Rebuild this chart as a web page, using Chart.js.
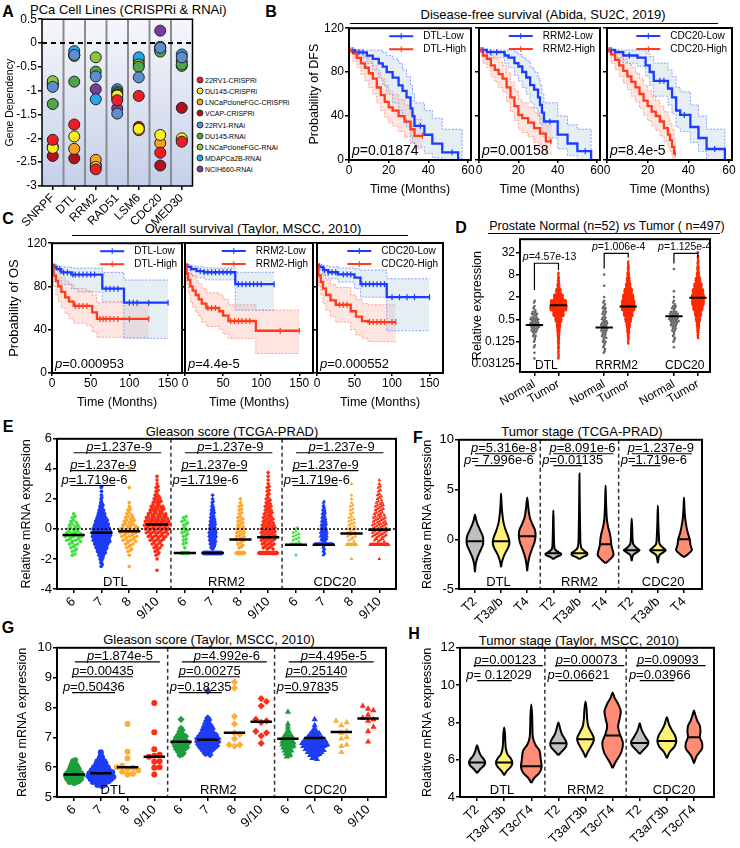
<!DOCTYPE html>
<html>
<head>
<meta charset="utf-8">
<title>PCa dependency and survival</title>
<script src="https://cdn.jsdelivr.net/npm/chart.js@4.4.1/dist/chart.umd.min.js"></script>
<style>
  body { margin: 0; background: #fff; }
  #page { position: relative; width: 740px; height: 848px; overflow: hidden; font-family: 'Liberation Sans', Arial, sans-serif; color: #000; }
  .c { position: absolute; white-space: nowrap; line-height: 1; transform: translate(-50%, -50%); }
  .l { position: absolute; white-space: nowrap; line-height: 1; transform: translateY(-50%); }
  .lab { position: absolute; font-weight: bold; font-size: 16px; line-height: 1; transform: translate(-50%, -50%); }
  .rule { position: absolute; height: 0; border-top: 1px solid #000; }
  .leg { position: absolute; font-size: 7px; line-height: 1; white-space: nowrap; transform: translateY(-50%); }
  .dot { position: absolute; width: 7px; height: 7px; border-radius: 50%; border: 1px solid #333; box-sizing: border-box; transform: translate(-50%, -50%); }
  canvas { position: absolute; }
</style>
</head>
<body>
<div id="page">
  <div class="lab" style="left:8px;top:12px">A</div>
  <div class="l" style="left:30px;top:9px;font-size:13px">PCa Cell Lines (CRISPRi &amp; RNAi)</div>
  <div class="lab" style="left:271px;top:12px">B</div>
  <div class="c" style="left:543px;top:14px;font-size:13px">Disease-free survival (Abida, SU2C, 2019)</div>
  <div class="rule" style="left:350px;top:23px;width:368px"></div>
  <div class="lab" style="left:8px;top:219px">C</div>
  <div class="c" style="left:253px;top:228px;font-size:13px">Overall survival (Taylor, MSCC, 2010)</div>
  <div class="rule" style="left:72px;top:235px;width:336px"></div>
  <div class="lab" style="left:461px;top:228px">D</div>
  <div class="c" style="left:607px;top:226px;font-size:12.5px">Prostate Normal (n=52) <i>vs</i> Tumor ( n=497)</div>
  <div class="rule" style="left:488px;top:233px;width:232px"></div>
  <div class="lab" style="left:8px;top:427px">E</div>
  <div class="c" style="left:232px;top:431px;font-size:13px">Gleason score (TCGA-PRAD)</div>
  <div class="lab" style="left:418px;top:438px">F</div>
  <div class="c" style="left:582px;top:431px;font-size:13px">Tumor stage (TCGA-PRAD)</div>
  <div class="lab" style="left:8px;top:628px">G</div>
  <div class="c" style="left:209px;top:639px;font-size:13px">Gleason score (Taylor, MSCC, 2010)</div>
  <div class="lab" style="left:414px;top:634px">H</div>
  <div class="c" style="left:579px;top:640px;font-size:13px">Tumor stage (Taylor, MSCC, 2010)</div>
</div>
<script>
// ---------------- data ----------------
// A: gene dependency per cell line
const aGenes = ['SNRPF', 'DTL', 'RRM2', 'RAD51', 'LSM6', 'CDC20', 'MED30'];
const aLines = ['22RV1-CRISPRi', 'DU145-CRISPRi', 'LNCaPcloneFGC-CRISPRi', 'VCAP-CRISPRi', '22RV1-RNAi',
  'DU145-RNAi', 'LNCaPcloneFGC-RNAi', 'MDAPCa2B-RNAi', 'NCIH660-RNAi'];
const dep22rv1Cri = [-2.03, -1.71, -2.65, -1.2, -1.11, -2.3, -2.07];
const depDu145Cri = [-2.2, -1.96, -2.6, -1.1, -1.8, -1.93, -2.0];
const depLncapCri = [-2.17, -2.22, -2.45, -1.15, -1.83, -2.1, -2.03];
const depVcapCri = [-2.37, -2.42, -2.56, -1.08, -1.76, -2.57, -1.36];
const dep22rv1Rnai = [-0.92, -0.25, -0.7, -1.48, -0.72, -0.1, -0.3];
const depDu145Rnai = [-1.28, -0.81, -0.6, -1.05, -0.5, -0.18, -0.45];
const depLncapRnai = [-0.8, -0.27, -0.3, -1.02, -0.45, -0.15, -0.48];
const depMdaRnai = [-0.88, -0.17, -1.18, -0.97, -0.3, -0.08, -0.24];
const depNcihRnai = [-0.85, -0.25, -0.97, -1.37, -0.37, 0.26, -0.39];

// B/C: Kaplan-Meier rows [months, survival %, lower CI, upper CI], plus censor times
const dfsDtlLow = [[0,100,100,100],[3,98,93,100],[9,95,88,100],[12,92,82,100],[15,88,75,100],[17,85,68,98],[19,80,60,95],[22,75,52,92],[25,68,45,88],[27,63,38,82],[29,57,30,76],[31,47,22,68],[32,40,16,60],[33,31,12,52],[38,23,6,45],[42,15,2,38],[47,7,0,28],[55,0,0,28],[57,0,0,0]];
const dfsDtlHigh = [[0,100,100,100],[2,97,90,100],[4,93,84,100],[6,88,78,97],[8,84,72,94],[10,79,66,90],[12,74,60,86],[14,66,52,80],[16,59,45,74],[18,53,39,68],[20,48,34,63],[22,45,31,60],[25,40,26,55],[28,35,21,50],[31,28,15,43],[33,22,10,37],[37,22,10,37]];
const dfsRrm2Low = [[0,100,100,100],[4,98,93,100],[13,95,88,100],[15,93,84,100],[18,88,77,98],[20,85,72,96],[22,80,66,93],[24,75,60,90],[26,68,52,84],[28,64,47,80],[30,57,40,74],[31,50,33,68],[32,43,26,60],[33,35,20,52],[40,23,10,40],[45,15,4,32],[50,8,0,28],[57,0,0,0]];
const dfsRrm2High = [[0,100,100,100],[2,95,88,100],[4,92,84,99],[6,86,76,95],[8,82,71,92],[10,78,66,89],[12,74,62,86],[14,66,53,79],[16,57,44,71],[18,49,36,63],[20,41,28,55],[22,38,25,52],[25,34,21,48],[28,29,16,43],[31,24,12,38],[34,17,6,31],[37,17,6,31]];
const dfsCdc20Low = [[0,100,100,100],[4,98,93,100],[8,95,88,100],[15,93,85,100],[19,86,76,97],[21,80,68,94],[23,72,58,88],[30,65,50,82],[32,57,42,76],[34,45,30,66],[36,41,26,62],[41,30,16,50],[45,20,8,40],[49,10,0,28],[58,0,0,0]];
const dfsCdc20High = [[0,100,100,100],[2,96,88,100],[4,91,82,100],[6,86,76,96],[8,81,70,92],[10,76,64,88],[12,71,58,84],[14,66,53,79],[16,60,47,74],[18,54,41,68],[20,49,36,63],[22,44,31,58],[24,40,27,54],[26,35,22,49],[28,29,17,44],[30,23,12,38],[31,18,8,33],[32,12,3,28],[33,6,0,20],[34,6,0,20]];
const dfsDtlLowCens = [2, 5, 7, 36, 52];
const dfsDtlHighCens = [1, 37];
const dfsRrm2LowCens = [2, 6, 9, 36, 54];
const dfsRrm2HighCens = [1, 36.5];
const dfsCdc20LowCens = [2, 11, 26, 28, 38, 53];
const dfsCdc20HighCens = [1, 33.5];
const osDtlLow = [[0,100,100,100],[3,98,92,100],[6,96,86,99],[12,93,82,98],[25,91,78,97],[33,91,75,97],[65,78,66,93],[93,65,32,86],[150,65,32,86]];
const osDtlHigh = [[0,100,100,100],[2,90,80,98],[5,85,72,95],[8,80,66,92],[12,75,60,88],[17,70,55,85],[22,66,50,82],[28,62,46,78],[45,62,44,76],[52,56,38,72],[58,50,33,65],[125,50,33,65]];
const osRrm2Low = [[0,100,100,100],[3,98,95,100],[8,96,90,99],[15,94,88,98],[25,93,86,97],[66,82,58,93],[117,82,58,93]];
const osRrm2High = [[0,100,100,100],[2,92,82,99],[4,86,74,96],[7,80,66,92],[10,76,61,89],[14,72,56,85],[18,68,52,82],[22,64,47,78],[28,60,43,74],[45,57,40,72],[50,53,36,68],[57,48,32,63],[93,39,18,58],[150,39,18,58]];
const osCdc20Low = [[0,100,100,100],[3,98,95,100],[8,95,90,99],[15,93,87,98],[28,91,84,97],[50,88,78,96],[58,82,70,95],[93,70,39,87],[150,70,39,87]];
const osCdc20High = [[0,100,100,100],[2,90,80,98],[5,84,72,95],[8,78,64,91],[12,72,58,86],[18,67,52,82],[25,63,47,79],[45,57,40,72],[52,52,35,68],[60,48,32,64],[68,47,29,63],[105,47,29,63]];
const osDtlLowCens = [10, 15, 20, 27, 30, 35, 40, 45, 50, 55, 70, 75, 80, 85, 100, 105, 110, 125, 150];
const osDtlHighCens = [30, 35, 40, 45, 62, 66, 70, 75, 80, 85, 100, 125];
const osRrm2LowCens = [20, 25, 30, 35, 40, 45, 50, 55, 60, 70, 75, 80, 85, 90, 95, 100, 117];
const osRrm2HighCens = [30, 35, 40, 60, 65, 70, 75, 80, 85, 125, 150];
const osCdc20LowCens = [10, 15, 20, 25, 35, 40, 45, 60, 65, 70, 75, 80, 85, 90, 100, 110, 120, 130, 150];
const osCdc20HighCens = [30, 35, 40, 70, 75, 80, 85, 90, 100, 105];

// D: counts per half-log2 bin (start = log2 of first bin)
const dTicks = [0.03125, 0.125, 0.5, 2, 8, 32];
const dNormalStart = [-4.5, -4, -3.5];
const dNormalCounts = [[1,1,2,2,4,8,12,10,7,3,2], [2,3,4,6,8,8,6,5,4,3,1,0,1,0,1], [1,2,3,5,8,12,10,5,3,1,1,0,0,0,1]];
const dTumorStart = [-4.5, -3, -2.5];
const dTumorCounts = [[2,3,4,6,9,14,22,40,70,110,105,60,30,13,6,3], [3,6,12,22,38,60,85,85,70,50,30,18,10,5,3], [3,8,15,25,40,62,80,82,70,50,30,15,8,5,3,1]];
const dNormalMed = [0.35, 0.3, 0.6];
const dTumorMed = [1.2, 1.1, 1.9];

// E: TCGA-PRAD Gleason, counts per 0.25 bin; floors for RRM2 / CDC20
const eLabels = ['6', '7', '8', '9/10', '6', '7', '8', '9/10', '6', '7', '8', '9/10'];
const eDtlStart = [-1.75, -2.5, -2.5, -2.75];
const eDtlCounts = [[2,2,3,4,6,7,6,5,4,3,2,1],
  [2,3,5,8,12,16,20,24,26,26,24,20,17,13,10,7,5,3,2,1,1,2],
  [1,0,0,1,2,3,4,6,7,8,8,6,5,4,3,2,1,1,0,0,0,1,0,0,0,0,1],
  [1,0,0,1,2,3,4,6,8,10,12,13,14,13,12,10,8,7,5,4,3,2,2,1,1,1]];
const eRrm2Start = [-1.25, -1.25, -1.25, -1.25];
const eRrm2Counts = [[1,2,2,2,3,3,2,3,2], [5,7,9,10,10,9,8,7,6,5,4,3,2,1,1],
  [2,3,4,4,4,4,3,3,3,2,2,2,1,1], [6,7,8,8,8,8,7,6,6,5,4,4,3,3,2,2,2,1,1,1,1]];
const eRrm2FloorVal = -1.6;
const eRrm2Floor = [25, 160, 26, 60];
const eCdc20Start = [-1.75, -1.75, -2, -2];
const eCdc20Counts = [[1,0,0,0,3,3,3,2], [2,3,3,0,8,10,10,9,8,7,6,5,4,3,2],
  [1,0,0,0,0,3,4,4,4,3,3,3,2,2,2,1,1,1,0,0,1], [1,0,0,0,0,6,8,8,8,8,7,7,6,5,5,4,3,3,2,2,1,1]];
const eCdc20FloorVal = -1.05;
const eCdc20Floor = [33, 167, 29, 64];
const eDtlMed = [-0.4, -0.25, -0.15, 0.3];
const eRrm2Med = [-1.6, -1.6, -0.7, -0.55];
const eCdc20Med = [-1.05, -1.05, -0.3, -0.05];
const eP = [['p=1.237e-9', 'p=1.237e-9', 'p=1.719e-6'], ['p=1.237e-9', 'p=1.237e-9', 'p=1.719e-6'], ['p=1.237e-9', 'p=1.237e-9', 'p=1.719e-6']];

// F: TCGA-PRAD stage violins [value, half width]
const fLabels = ['T2', 'T3a/b', 'T4', 'T2', 'T3a/b', 'T4', 'T2', 'T3a/b', 'T4'];
const fDtlT2 = [[-3.3,0],[-2.5,0.03],[-1.8,0.1],[-1.2,0.2],[-0.6,0.3],[-0.2,0.32],[0.3,0.3],[0.9,0.2],[1.5,0.1],[2.0,0.04],[2.5,0]];
const fDtlT3 = [[-2.8,0],[-2.2,0.04],[-1.5,0.14],[-0.8,0.28],[-0.3,0.32],[0.2,0.28],[0.9,0.18],[1.6,0.1],[2.5,0.05],[3.5,0.02],[4.6,0]];
const fDtlT4 = [[-3.2,0],[-2.5,0.03],[-1.8,0.08],[-1,0.18],[-0.3,0.28],[0.3,0.32],[0.9,0.3],[1.5,0.2],[2.2,0.1],[3,0.05],[4.2,0]];
const fRrm2T2 = [[-2.0,0],[-1.8,0.1],[-1.6,0.28],[-1.45,0.3],[-1.3,0.2],[-1.0,0.06],[-0.5,0.03],[0.5,0.02],[1.8,0.01],[2.9,0]];
const fRrm2T3 = [[-2.0,0],[-1.8,0.12],[-1.6,0.28],[-1.4,0.3],[-1.2,0.2],[-0.9,0.08],[-0.4,0.04],[0.5,0.03],[2,0.02],[4,0.01],[6.6,0]];
const fRrm2T4 = [[-2.4,0],[-2.0,0.18],[-1.6,0.3],[-1.2,0.28],[-0.6,0.22],[0,0.2],[0.6,0.16],[1.2,0.1],[2,0.05],[3.5,0.02],[5.4,0]];
const fCdc20T2 = [[-2.2,0],[-1.6,0.05],[-1.3,0.2],[-1.1,0.3],[-0.9,0.2],[-0.5,0.06],[0.2,0.03],[1,0.02],[2.1,0]];
const fCdc20T3 = [[-2.4,0],[-1.6,0.06],[-1.3,0.22],[-1.1,0.3],[-0.9,0.22],[-0.5,0.07],[0.3,0.04],[1.5,0.02],[3.4,0]];
const fCdc20T4 = [[-1.8,0],[-1.5,0.15],[-1.1,0.3],[-0.6,0.25],[0,0.22],[0.6,0.15],[1.2,0.1],[2,0.05],[3,0.02],[4.2,0]];
const fMed = [-0.2, -0.2, 0.3, -1.4, -1.4, -0.5, -1.1, -1.1, 0.0];
const fP = [['p=5.316e-8', 'p= 7.996e-6'], ['p=8.091e-6', 'p=0.01135'], ['p=1.237e-9', 'p=1.719e-6']];

// G: Taylor Gleason; counts per 0.1 bin for groups 6/7, raw values for 8 and 9/10
const gDtlStart = [5.5, 5.4];
const gDtlCounts = [[5,7,8,7,5,4,3,2], [4,8,10,12,11,9,7,5,4,2,1,1]];
const gDtlVals = [[7.45,6.52,6.3,6.05,6.0,5.98,5.95,5.9,5.85,5.78,5.75], [8.15,7.17,6.6,6.42,6.38,6.35,6.2,6.18,6.0,5.98,5.75]];
const gRrm2Start = [6.4, 6.45];
const gRrm2Counts = [[2,3,5,6,7,6,5,3,2,1,0,0,1], [3,5,7,9,10,10,8,6,5,4,3,2,1,0,0,0,0,0,0,0,0,1]];
const gRrm2Vals = [[8.85,8.65,7.7,7.45,7.15,7.1,6.95,6.75,6.75,6.7], [8.3,8.2,8.05,7.6,7.55,7.5,7.2,7.15,7.05,6.8]];
const gCdc20Start = [6.35, 6.3];
const gCdc20Counts = [[2,3,4,5,6,6,5,4,2,1,1,1,0,0,0,1], [3,5,7,9,11,12,10,7,5,3,1,1,0,1]];
const gCdc20Vals = [[7.55,7.5,7.4,7.2,7.15,7.0,6.95,6.75,6.7,6.5], [8.05,7.95,7.9,7.75,7.65,7.6,7.55,7.35,7.2,6.85]];
const gDtlMed = [5.75, 5.8, 6.0, 6.35];
const gRrm2Med = [6.85, 6.92, 7.15, 7.52];
const gCdc20Med = [6.95, 6.98, 7.18, 7.63];
const gP = [['p=1.874e-5', 'p=0.00435', 'p=0.50436'], ['p=4.992e-6', 'p=0.00275', 'p=0.18235'], ['p=4.495e-5', 'p=0.25140', 'p=0.97835']];

// H: Taylor stage violins
const hLabels = ['T2', 'T3a/T3b', 'T3c/T4', 'T2', 'T3a/T3b', 'T3c/T4', 'T2', 'T3a/T3b', 'T3c/T4'];
const hDtlT2 = [[5.28,0],[5.5,0.12],[5.7,0.26],[5.85,0.3],[6.0,0.26],[6.2,0.15],[6.4,0.08],[6.6,0.04],[6.77,0]];
const hDtlT3 = [[5.17,0],[5.4,0.1],[5.65,0.26],[5.85,0.3],[6.05,0.25],[6.3,0.12],[6.6,0.06],[7.0,0.04],[7.4,0.03],[7.73,0]];
const hDtlT4 = [[4.75,0],[5.0,0.1],[5.3,0.3],[5.6,0.38],[6.0,0.35],[6.5,0.3],[6.8,0.15],[7.2,0.06],[7.8,0.04],[8.4,0.03],[8.96,0]];
const hRrm2T2 = [[6.24,0],[6.4,0.1],[6.7,0.28],[6.9,0.3],[7.1,0.24],[7.4,0.12],[7.7,0.06],[8.0,0]];
const hRrm2T3 = [[6.13,0],[6.4,0.08],[6.7,0.2],[7.0,0.3],[7.2,0.3],[7.5,0.2],[7.8,0.1],[8.2,0.06],[8.7,0.04],[9.12,0]];
const hRrm2T4 = [[5.55,0],[5.9,0.12],[6.4,0.32],[6.9,0.38],[7.4,0.26],[7.8,0.2],[8.2,0.26],[8.6,0.3],[9.0,0.2],[9.3,0.08],[9.6,0]];
const hCdc20T2 = [[6.3,0],[6.5,0.12],[6.75,0.28],[6.95,0.32],[7.15,0.24],[7.45,0.12],[7.7,0.05],[7.95,0]];
const hCdc20T3 = [[6.08,0],[6.4,0.1],[6.7,0.28],[7.0,0.35],[7.3,0.3],[7.6,0.18],[7.9,0.08],[8.27,0]];
const hCdc20T4 = [[5.8,0],[6.2,0.1],[6.6,0.3],[6.9,0.3],[7.2,0.22],[7.5,0.24],[7.8,0.22],[8.1,0.12],[8.4,0.05],[8.64,0]];
const hMed = [5.85, 5.85, 5.65, 6.88, 7.1, 7.3, 6.9, 7.0, 7.2];
const hP = [['p=0.00123', 'p= 0.12029'], ['p=0.00073', 'p=0.06621'], ['p=0.09093', 'p=0.03966']];

// ---------------- helpers ----------------
const FONT = "'Liberation Sans', Arial, sans-serif";
Chart.defaults.font.family = FONT;
Chart.defaults.color = '#000';
Chart.defaults.animation = false;
Chart.defaults.responsive = false;
Chart.defaults.events = [];
Chart.defaults.plugins.legend.display = false;
Chart.defaults.plugins.tooltip.enabled = false;

const page = document.getElementById('page');
const PAD_T = 8;

function mount(box, axL, axB, padR, deco) {
  const cv = document.createElement('canvas');
  cv.width = box[2] - box[0] + axL + padR;
  cv.height = box[3] - box[1] + axB + PAD_T;
  cv.style.left = (box[0] - axL) + 'px';
  cv.style.top = (box[1] - PAD_T) + 'px';
  cv.deco = deco || {};
  page.appendChild(cv);
  return cv;
}

function axis(o, horizontal) {
  return {
    type: o.log ? 'logarithmic' : 'linear', min: o.min, max: o.max, bounds: 'data',
    afterBuildTicks: s => { s.ticks = o.ticks.map(v => ({value: v})); },
    afterFit: s => { if (horizontal) s.height = o.size2; else s.width = o.size2; },
    ticks: {display: o.show !== false, autoSkip: false, padding: o.pad ?? 1, font: {size: o.font || 12}, color: '#000',
      minRotation: o.rot || 0, maxRotation: o.rot || 0,
      callback: (v, i) => o.labels ? o.labels[i] : String(v)},
    grid: {drawOnChartArea: false, drawTicks: true, tickLength: o.tl ?? 4, color: '#000', lineWidth: 1.5},
    border: {display: false},
    title: o.title ? {display: true, text: o.title, font: {size: o.tfont || 12.5}, padding: 0, color: '#000'} : {display: false}
  };
}

function opts(x, y, padR) {
  return {layout: {padding: {left: 0, right: padR, top: PAD_T, bottom: 0}},
    scales: {x: axis(x, true), y: axis(y, false)}};
}

function pText(ctx, s, x, y, size, align) {
  const head = s.charAt(0) === 'p' ? 'p' : '';
  const tail = s.slice(head.length);
  ctx.font = `italic ${size}px ${FONT}`;
  const w1 = ctx.measureText(head).width;
  ctx.font = `${size}px ${FONT}`;
  const w2 = ctx.measureText(tail).width;
  const x0 = align === 'center' ? x - (w1 + w2) / 2 : x;
  ctx.textAlign = 'left';
  ctx.textBaseline = 'alphabetic';
  ctx.font = `italic ${size}px ${FONT}`;
  ctx.fillText(head, x0, y);
  ctx.font = `${size}px ${FONT}`;
  ctx.fillText(tail, x0 + w1, y);
}

function hline(ctx, a, y, h) {
  ctx.save();
  ctx.strokeStyle = h.color || '#000'; ctx.lineWidth = h.w || 1.5; ctx.setLineDash(h.dash || []);
  const py = y.getPixelForValue(h.y);
  ctx.beginPath(); ctx.moveTo(a.left, py); ctx.lineTo(a.right, py); ctx.stroke();
  ctx.restore();
}

const decoPlugin = {
  id: 'deco',
  beforeDatasetsDraw(chart) {
    const d = chart.canvas.deco;
    const {ctx, chartArea: a, scales: {x, y}} = chart;
    ctx.save();
    if (d.bg) {
      const g = ctx.createLinearGradient(0, a.top, 0, a.bottom);
      g.addColorStop(0, d.bg[0]); g.addColorStop(1, d.bg[1]);
      ctx.fillStyle = g; ctx.fillRect(a.left, a.top, a.width, a.height);
    }
    (d.vlines || []).forEach(v => {
      ctx.strokeStyle = v.color || '#000'; ctx.lineWidth = v.w || 1.5; ctx.setLineDash(v.dash || []);
      const px = x.getPixelForValue(v.x);
      ctx.beginPath(); ctx.moveTo(px, a.top); ctx.lineTo(px, a.bottom); ctx.stroke();
    });
    ctx.restore();
    (d.hlines || []).filter(h => !h.top).forEach(h => hline(ctx, a, y, h));
  },
  afterDatasetsDraw(chart) {
    const d = chart.canvas.deco;
    const {ctx, chartArea: a, scales: {x, y}} = chart;
    (d.hlines || []).filter(h => h.top).forEach(h => hline(ctx, a, y, h));
    ctx.save();
    ctx.strokeStyle = '#000'; ctx.fillStyle = '#000';
    ctx.lineWidth = d.frame || 2;
    ctx.strokeRect(a.left, a.top, a.width, a.height);
    (d.pvals || []).forEach(p => {
      const py = y.getPixelForValue(p.y);
      ctx.lineWidth = 1.2;
      ctx.beginPath(); ctx.moveTo(x.getPixelForValue(p.x1), py); ctx.lineTo(x.getPixelForValue(p.x2), py); ctx.stroke();
      pText(ctx, p.t, x.getPixelForValue(p.x), py - 2, 13, 'left');
    });
    (d.brackets || []).forEach(b => {
      const xl = x.getPixelForValue(b.x1), xr = x.getPixelForValue(b.x2), yt = y.getPixelForValue(b.y);
      ctx.lineWidth = 1.2;
      ctx.beginPath();
      ctx.moveTo(xl, y.getPixelForValue(b.yl)); ctx.lineTo(xl, yt); ctx.lineTo(xr, yt); ctx.lineTo(xr, y.getPixelForValue(b.yr));
      ctx.stroke();
      pText(ctx, b.t, x.getPixelForValue(b.tx), yt - 3, 10.5, 'center');
    });
    (d.genes || []).forEach(gl => {
      ctx.font = `${d.gSize || 13}px ${FONT}`;
      ctx.textAlign = 'center'; ctx.textBaseline = 'alphabetic';
      ctx.fillText(gl.t, x.getPixelForValue(gl.x), a.bottom - 3);
    });
    if (d.pLabel) pText(ctx, d.pLabel, a.left + 3, a.bottom - 5, d.pSize || 14, 'left');
    if (d.km) {
      ctx.font = `10px ${FONT}`;
      const tw = Math.max(...d.km.map(i => ctx.measureText(i.t).width));
      const tx = a.right - 5 - tw;
      d.km.forEach((it, i) => {
        const yy = a.top + 8 + i * 13;
        ctx.strokeStyle = it.c; ctx.lineWidth = 2;
        ctx.beginPath(); ctx.moveTo(tx - 34, yy); ctx.lineTo(tx - 10, yy); ctx.stroke();
        ctx.lineWidth = 1;
        ctx.beginPath(); ctx.moveTo(tx - 22, yy - 3); ctx.lineTo(tx - 22, yy + 3); ctx.stroke();
        ctx.fillStyle = '#000'; ctx.textAlign = 'left'; ctx.textBaseline = 'middle';
        ctx.font = `10px ${FONT}`;
        ctx.fillText(it.t, tx, yy);
      });
    }
    ctx.restore();
  }
};
Chart.register(decoPlugin);

// beeswarm-ish rows from binned counts
function rows(cx, start, step, counts, dx, maxHalf) {
  const out = [];
  counts.forEach((c, i) => {
    const v = start + i * step;
    const half = Math.min(maxHalf, (c - 1) * dx / 2);
    for (let k = 0; k < c; k++) {
      const f = c > 1 ? k / (c - 1) : 0.5;
      out.push({x: cx - half + 2 * half * f, y: v + [0, 0.33, -0.33][k % 3] * step});
    }
  });
  return out;
}

// simple beeswarm for short value lists
function swarm(cx, vals, rx, ry) {
  const out = [];
  [...vals].sort((a, b) => a - b).forEach(v => {
    for (let j = 0; j < 40; j++) {
      const x = cx + (j % 2 ? 1 : -1) * Math.ceil(j / 2) * rx;
      if (out.every(p => Math.abs(p.x - x) > rx * 0.9 || Math.abs(p.y - v) > ry)) { out.push({x, y: v}); return; }
    }
  });
  return out;
}

function dots(data, color, style, r) {
  return {data, showLine: false, pointStyle: style, pointRadius: r, pointBackgroundColor: color,
    pointBorderColor: color, pointBorderWidth: 0};
}

function medLine(cx, m, half, w) {
  return {data: [{x: cx - half, y: m}, {x: cx + half, y: m}], showLine: true, borderColor: '#000',
    borderWidth: w || 2.5, pointRadius: 0};
}

function widthAt(prof, v) {
  for (let i = 1; i < prof.length; i++) {
    if (v <= prof[i][0]) {
      const [y0, w0] = prof[i - 1], [y1, w1] = prof[i];
      return w0 + (w1 - w0) * (v - y0) / (y1 - y0);
    }
  }
  return 0;
}

function violin(cx, prof, color) {
  const left = prof.map(([y, w]) => ({x: cx - w, y}));
  const right = prof.slice(0, -1).reverse().map(([y, w]) => ({x: cx + w, y}));
  return {data: left.concat(right), showLine: true, fill: 'shape', backgroundColor: color,
    borderColor: '#000', borderWidth: 2, pointRadius: 0, tension: 0.3};
}

function pvalItems(texts, spec, groupStarts) {
  const items = [];
  texts.forEach((row, g) => row.forEach((t, r) => {
    const s = spec[r], g0 = groupStarts[g];
    items.push({t, x: g0 + s.x, x1: g0 + s.x1, x2: g0 + s.x2, y: s.y});
  }));
  return items;
}

// survival level of a KM table at time t
function survAt(table, t) {
  let v = table[0][1];
  table.forEach(r => { if (r[0] <= t) v = r[1]; });
  return v;
}

// ---------------- A ----------------
const aColors = ['#ee1d23', '#f7ef1f', '#f9a11b', '#b3121b', '#5b8fd2', '#4fa64a', '#8cc63f', '#1fa9ec', '#7b3c9c'];
aLines.forEach((name, k) => {
  const yy = 80 + k * 11.15;
  const dot = document.createElement('div');
  dot.className = 'dot';
  dot.style.cssText = `left:200px;top:${yy}px;background:${aColors[k]}`;
  const tx = document.createElement('div');
  tx.className = 'leg';
  tx.style.cssText = `left:205px;top:${yy}px`;
  tx.textContent = name;
  page.append(dot, tx);
});
{
  const series = [dep22rv1Cri, depDu145Cri, depLncapCri, depVcapCri, dep22rv1Rnai, depDu145Rnai, depLncapRnai, depMdaRnai, depNcihRnai];
  const cv = mount([42, 19, 195, 186], 38, 62, 4, {
    bg: ['#f6f7fc', '#c4cfe9'], frame: 1.5,
    vlines: [0.5, 1.5, 2.5, 3.5, 4.5, 5.5].map(v => ({x: v, color: '#8c8c8c', w: 2})),
    hlines: [{y: 0, dash: [5, 4], w: 2}]
  });
  const datasets = series.map((vals, k) => ({
    data: vals.map((v, i) => ({x: i, y: v})), showLine: false, pointRadius: 5.5,
    pointBackgroundColor: aColors[k], pointBorderColor: '#222', pointBorderWidth: 1
  }));
  new Chart(cv, {type: 'scatter', data: {datasets}, options: opts(
    {min: -0.5, max: 6.5, ticks: [0, 1, 2, 3, 4, 5, 6], labels: aGenes, rot: 45, size2: 62, font: 12},
    {min: -3, max: 0.5, ticks: [-3, -2.5, -2, -1.5, -1, -0.5, 0, 0.5], size2: 38, font: 12, title: 'Gene Dependency', tfont: 10.5},
    4)});
}

// ---------------- B / C Kaplan-Meier ----------------
const blue = '#1b3cff', red = '#ff3b1c';
function km(box, axL, padR, low, high, lowCens, highCens, names, pLabel, xMax, xTicks, yTitle, pSize) {
  const cv = mount(box, axL, 37, padR, {pLabel, pSize,
    km: [{t: names[0], c: blue}, {t: names[1], c: red}]});
  const line = (table, k, color, w, dash) => ({
    data: table.map(r => ({x: r[0], y: r[k]})), showLine: true, stepped: true,
    borderColor: color, borderWidth: w, borderDash: dash || [], pointRadius: 0
  });
  const cens = (table, times, color) => ({
    data: times.map(t => ({x: t, y: survAt(table, t)})), showLine: false,
    pointStyle: 'line', pointRotation: 90, pointRadius: 3, pointBorderColor: color, pointBorderWidth: 1.2
  });
  const ciB = 'rgba(70,95,255,0.75)', ciR = 'rgba(255,95,70,0.75)';
  const datasets = [
    cens(high, highCens, red), cens(low, lowCens, blue),
    line(high, 1, red, 2.3), line(low, 1, blue, 2.3),
    Object.assign(line(low, 3, ciB, 0.8, [2, 1.5]), {fill: '+1', backgroundColor: 'rgba(165,198,215,0.3)'}),
    line(low, 2, ciB, 0.8, [2, 1.5]),
    Object.assign(line(high, 3, ciR, 0.8, [2, 1.5]), {fill: '+1', backgroundColor: 'rgba(255,150,130,0.25)'}),
    line(high, 2, ciR, 0.8, [2, 1.5])
  ];
  new Chart(cv, {type: 'scatter', data: {datasets}, options: opts(
    {min: 0, max: xMax, ticks: xTicks, size2: 37, font: 12, tl: 3, pad: 0, title: 'Time (Months)'},
    {min: 0, max: 120, ticks: [0, 40, 80, 120], size2: axL, font: 12, show: !!yTitle, title: yTitle, tfont: yTitle === 'Probability of OS' ? 13 : 12.5},
    padR)});
}
const dfsX = [0, 20, 40, 60], osX = [0, 50, 100, 150];
km([349, 28, 471, 160], 42, 9, dfsDtlLow, dfsDtlHigh, dfsDtlLowCens, dfsDtlHighCens, ['DTL-Low', 'DTL-High'], 'p=0.01874', 61.5, dfsX, 'Probability of DFS', 14);
km([479, 28, 600, 160], 8, 9, dfsRrm2Low, dfsRrm2High, dfsRrm2LowCens, dfsRrm2HighCens, ['RRM2-Low', 'RRM2-High'], 'p=0.00158', 61.5, dfsX, null, 14);
km([607, 28, 732, 160], 8, 8, dfsCdc20Low, dfsCdc20High, dfsCdc20LowCens, dfsCdc20HighCens, ['CDC20-Low', 'CDC20-High'], 'p=8.4e-5', 61.5, dfsX, null, 14);
km([52, 243, 182, 373], 45, 11, osDtlLow, osDtlHigh, osDtlLowCens, osDtlHighCens, ['DTL-Low', 'DTL-High'], 'p=0.000953', 168, osX, 'Probability of OS', 13);
km([185, 243, 313, 373], 8, 11, osRrm2Low, osRrm2High, osRrm2LowCens, osRrm2HighCens, ['RRM2-Low', 'RRM2-High'], 'p=4.4e-5', 168, osX, null, 13);
km([317, 243, 443, 373], 8, 11, osCdc20Low, osCdc20High, osCdc20LowCens, osCdc20HighCens, ['CDC20-Low', 'CDC20-High'], 'p=0.000552', 168, osX, null, 13);

// ---------------- D ----------------
{
  const pos = [[0, 1], [2.9, 3.9], [5.8, 6.8]];
  const cv = mount([520, 239, 710, 372], 50, 34, 6, {
    gSize: 12,
    genes: [{t: 'DTL', x: 0.5}, {t: 'RRRM2', x: 3.42}, {t: 'CDC20', x: 6.25}],
    brackets: [
      {x1: 0, x2: 1, y: 16.2, yl: 3.1, yr: 10.5, t: 'p=4.57e-13', tx: 0.63},
      {x1: 2.9, x2: 3.9, y: 30, yl: 11.6, yr: 23, t: 'p=1.006e-4', tx: 3.5},
      {x1: 5.8, x2: 6.8, y: 30, yl: 16, yr: 23, t: 'p=1.125e-4', tx: 6.25}
    ]
  });
  const datasets = [];
  pos.forEach((p, g) => {
    datasets.push(medLine(p[0], dNormalMed[g], 0.36, 2), medLine(p[1], dTumorMed[g], 0.36, 2));
  });
  pos.forEach((p, g) => {
    const norm = rows(p[0], dNormalStart[g], 0.5, dNormalCounts[g], 0.035, 0.32).map(q => ({x: q.x, y: 2 ** q.y}));
    const tum = rows(p[1], dTumorStart[g], 0.5, dTumorCounts[g], 0.006, 0.34).map(q => ({x: q.x, y: 2 ** q.y}));
    datasets.push(dots(norm, '#666', 'circle', 1.3), dots(tum, '#ff2a00', 'circle', 1.3));
  });
  new Chart(cv, {type: 'scatter', data: {datasets}, options: opts(
    {min: -0.6, max: 7.3, ticks: [0, 1, 2.9, 3.9, 5.8, 6.8], labels: ['Normal', 'Tumor', 'Normal', 'Tumor', 'Normal', 'Tumor'], rot: 30, size2: 34, font: 12},
    {log: true, min: 0.019, max: 72, ticks: dTicks, size2: 50, font: 12, title: 'Relative expression'},
    6)});
}

// ---------------- E ----------------
{
  const eColors = ['#3ee03e', '#1f3cf5', '#ffa62b', '#ff2b12'];
  const eDx = [0.1, 0.026, 0.09, 0.07];
  const shapes = ['circle', 'rectRot', 'triangle'];
  const rad = [1.8, 2.2, 2.2];
  const cv = mount([57, 438, 396, 589], 38, 36, 6, {
    vlines: [{x: 3.5, dash: [4, 3], w: 1.5, color: '#333'}, {x: 7.5, dash: [4, 3], w: 1.5, color: '#333'}],
    hlines: [{y: 0, dash: [2, 2], w: 1.5, top: true}],
    genes: [{t: 'DTL', x: 1.5}, {t: 'RRM2', x: 5.5}, {t: 'CDC20', x: 9.4}],
    pvals: pvalItems(eP, [{x: 0.45, x1: 0, x2: 3.15, y: 5.07}, {x: -0.12, x1: -0.12, x2: 2.25, y: 3.88}, {x: -0.44, x1: -0.12, x2: 1.5, y: 2.89}], [0, 4, 8])
  });
  const datasets = [];
  [eDtlMed, eRrm2Med, eCdc20Med].forEach((meds, g) => meds.forEach((m, j) => datasets.push(medLine(4 * g + j, m, 0.4, 2.5))));
  const starts = [eDtlStart, eRrm2Start, eCdc20Start];
  const floors = [null, [eRrm2FloorVal, eRrm2Floor], [eCdc20FloorVal, eCdc20Floor]];
  [eDtlCounts, eRrm2Counts, eCdc20Counts].forEach((groups, g) => groups.forEach((counts, j) => {
    const cx = 4 * g + j;
    let pts = rows(cx, starts[g][j], 0.25, counts, eDx[j], 0.48);
    if (floors[g]) pts = pts.concat(rows(cx, floors[g][0], 0, [floors[g][1][j]], 0.012, 0.33));
    datasets.push(dots(pts, eColors[j], shapes[g], rad[g]));
  }));
  new Chart(cv, {type: 'scatter', data: {datasets}, options: opts(
    {min: -0.6, max: 11.6, ticks: [0, 1, 2, 3, 4, 5, 6, 7, 8, 9, 10, 11], labels: eLabels, rot: 45, size2: 36, font: 13},
    {min: -4, max: 6, ticks: [-4, -2, 0, 2, 4, 6], size2: 38, font: 13, title: 'Relative mRNA expression'},
    6)});
}

// ---------------- F ----------------
{
  const fills = ['#bfbfbf', '#fff07a', '#ff8c74'];
  const profs = [fDtlT2, fDtlT3, fDtlT4, fRrm2T2, fRrm2T3, fRrm2T4, fCdc20T2, fCdc20T3, fCdc20T4];
  const cv = mount([459, 439, 702, 589], 39, 36, 6, {
    vlines: [{x: 2.5, dash: [4, 3], w: 1.5, color: '#333'}, {x: 5.5, dash: [4, 3], w: 1.5, color: '#333'}],
    genes: [{t: 'DTL', x: 0.9}, {t: 'RRM2', x: 4.0}, {t: 'CDC20', x: 7.2}],
    pvals: pvalItems(fP, [{x: -0.15, x1: 0, x2: 2.3, y: 8.6}, {x: -0.42, x1: 0, x2: 1.1, y: 7.4}], [0, 3, 6])
  });
  const datasets = [];
  profs.forEach((p, i) => datasets.push(medLine(i, fMed[i], widthAt(p, fMed[i]), 2)));
  profs.forEach((p, i) => datasets.push(violin(i, p, fills[i % 3])));
  new Chart(cv, {type: 'scatter', data: {datasets}, options: opts(
    {min: -0.61, max: 8.69, ticks: [0, 1, 2, 3, 4, 5, 6, 7, 8], labels: fLabels, rot: 45, size2: 36, font: 13},
    {min: -5, max: 10, ticks: [-5, 0, 5, 10], size2: 39, font: 13, title: 'Relative mRNA expression'},
    6)});
}

// ---------------- G ----------------
{
  const gColors = ['#1d9e3c', '#1f3cf5', '#ffad33', '#ff2b12'];
  const shapes = ['circle', 'rectRot', 'triangle'];
  const rad = [3, 3.6, 3.6];
  const cv = mount([57, 647, 386, 797], 42, 40, 6, {
    vlines: [{x: 3.5, dash: [4, 3], w: 1.5, color: '#333'}, {x: 7.5, dash: [4, 3], w: 1.5, color: '#333'}],
    genes: [{t: 'DTL', x: 1.45}, {t: 'RRM2', x: 5.4}, {t: 'CDC20', x: 9.4}],
    pvals: pvalItems(gP, [{x: 0.48, x1: 0.03, x2: 3.21, y: 9.53}, {x: -0.08, x1: -0.08, x2: 2.2, y: 9.03}, {x: -0.42, x1: -0.08, x2: 1.53, y: 8.5}], [0, 4, 8])
  });
  const datasets = [];
  [gDtlMed, gRrm2Med, gCdc20Med].forEach((meds, g) => meds.forEach((m, j) => datasets.push(medLine(4 * g + j, m, 0.4, 2.5))));
  const starts = [gDtlStart, gRrm2Start, gCdc20Start];
  const vals = [gDtlVals, gRrm2Vals, gCdc20Vals];
  [gDtlCounts, gRrm2Counts, gCdc20Counts].forEach((groups, g) => {
    groups.forEach((counts, j) => {
      datasets.push(dots(rows(4 * g + j, starts[g][j], 0.1, counts, 0.085, 0.5), gColors[j], shapes[g], rad[g]));
    });
    vals[g].forEach((v, j) => {
      datasets.push(dots(swarm(4 * g + 2 + j, v, 0.2, 0.18), gColors[j + 2], shapes[g], rad[g]));
    });
  });
  new Chart(cv, {type: 'scatter', data: {datasets}, options: opts(
    {min: -0.64, max: 11.67, ticks: [0, 1, 2, 3, 4, 5, 6, 7, 8, 9, 10, 11], labels: eLabels, rot: 45, size2: 40, font: 13},
    {min: 5, max: 10, ticks: [5, 6, 7, 8, 9, 10], size2: 42, font: 13, title: 'Relative mRNA expression'},
    6)});
}

// ---------------- H ----------------
{
  const fills = ['#bfbfbf', '#fff07a', '#ff8c74'];
  const profs = [hDtlT2, hDtlT3, hDtlT4, hRrm2T2, hRrm2T3, hRrm2T4, hCdc20T2, hCdc20T3, hCdc20T4];
  const cv = mount([460, 647, 714, 797], 40, 48, 6, {
    vlines: [{x: 2.5, dash: [4, 3], w: 1.5, color: '#333'}, {x: 5.5, dash: [4, 3], w: 1.5, color: '#333'}],
    genes: [{t: 'DTL', x: 0.92}, {t: 'RRM2', x: 4.0}, {t: 'CDC20', x: 7.27}],
    pvals: pvalItems(hP, [{x: -0.1, x1: -0.13, x2: 2.43, y: 11.04}, {x: -0.4, x1: 0, x2: 1.28, y: 10.24}], [0, 3, 6])
  });
  const datasets = [];
  profs.forEach((p, i) => datasets.push(medLine(i, hMed[i], widthAt(p, hMed[i]), 2)));
  profs.forEach((p, i) => datasets.push(violin(i, p, fills[i % 3])));
  new Chart(cv, {type: 'scatter', data: {datasets}, options: opts(
    {min: -0.63, max: 8.74, ticks: [0, 1, 2, 3, 4, 5, 6, 7, 8], labels: hLabels, rot: 45, size2: 48, font: 13},
    {min: 4, max: 12, ticks: [4, 6, 8, 10, 12], size2: 40, font: 13, title: 'Relative mRNA expression'},
    6)});
}
</script>
</body>
</html>
